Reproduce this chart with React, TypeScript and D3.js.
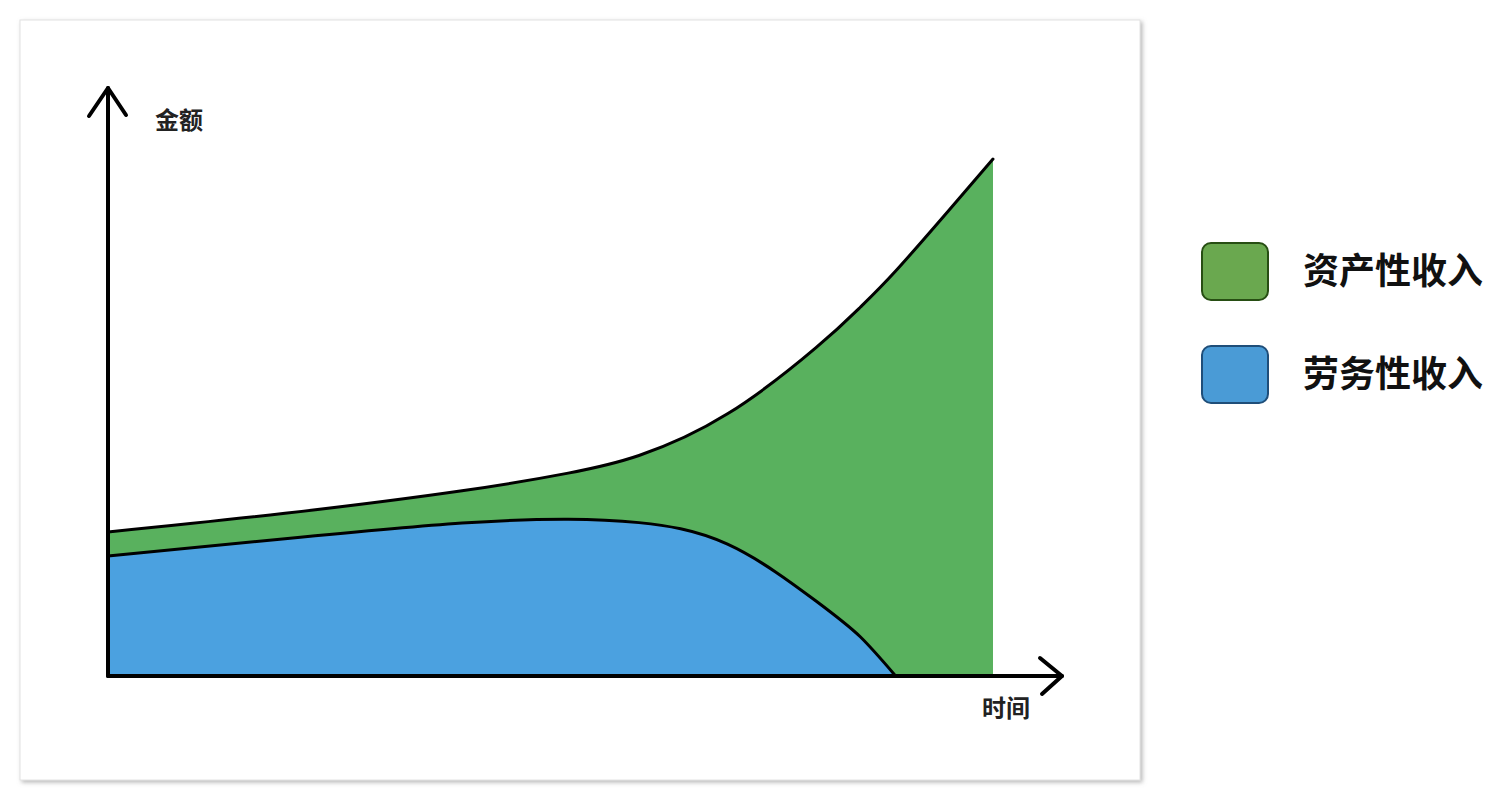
import React from "react";
import * as d3 from "d3";

// time (arbitrary units)
const times = [0, 20, 40, 52, 60, 70, 80, 85, 89, 95, 100];
// labor income (劳务性收入)
const laborIncome = [24.5, 28.0, 31.2, 32.0, 31.3, 26.9, 15.3, 8.0, 0, 0, 0];
// asset income (资产性收入)
const assetIncome = [4.9, 5.2, 6.6, 9.4, 13.7, 26.6, 51.7, 67.25, 82.65, 95.0, 105.5];
const laborEnd = 89; // time at which labor income reaches zero

const seriesKeys = ["labor", "asset"];
const legendLabels = ["资产性收入", "劳务性收入"];
const axisLabels = { y: "金额", x: "时间" };

const W = 1506;
const H = 790;

export default function App() {
  const x = d3.scaleLinear().domain([0, 100]).range([108, 993]);
  const y = d3.scaleLinear().domain([0, 120]).range([676, 88]);

  const rows = times.map((t, i) => ({ t, labor: laborIncome[i], asset: assetIncome[i] }));
  const stacked = d3.stack<any>().keys(seriesKeys)(rows);
  const laborS = stacked[0];
  const assetS = stacked[1];

  const curve = d3.curveNatural;

  const greenArea = d3
    .area<any>()
    .x((d) => x(d.data.t))
    .y0(y(0))
    .y1((d) => y(d[1]))
    .curve(curve)(assetS as any);

  const laborPts = laborS.filter((d: any) => d.data.t <= laborEnd);
  const blueArea = d3
    .area<any>()
    .x((d) => x(d.data.t))
    .y0(y(0))
    .y1((d) => y(d[1]))
    .curve(curve)(laborPts as any);

  const blueLine = d3
    .line<any>()
    .x((d) => x(d.data.t))
    .y((d) => y(d[1]))
    .curve(curve)(laborPts as any);

  const greenLine = d3
    .line<any>()
    .x((d) => x(d.data.t))
    .y((d) => y(d[1]))
    .curve(curve)(assetS as any);

  const x0 = x(0);
  const y0 = y(0);
  const yTop = 88;
  const xEnd = 1062;

  const font = "'Noto Sans CJK SC', 'Noto Sans', sans-serif";

  const legend = [
    { label: legendLabels[0], fill: "#6AA84F", stroke: "#274E13", y: 243 },
    { label: legendLabels[1], fill: "#4A9BD6", stroke: "#1F4E79", y: 346 },
  ];

  return (
    <svg
      width={W}
      height={H}
      style={{ position: "absolute", left: 0, top: 0, display: "block", background: "#fff" }}
    >
      <defs>
        <filter id="shadow" x="-5%" y="-5%" width="110%" height="110%">
          <feDropShadow dx="2" dy="2" stdDeviation="2" floodColor="#888" floodOpacity="0.6" />
        </filter>
      </defs>
      <rect x={20} y={20} width={1120} height={760} fill="#fff" stroke="#e2e2e2" strokeWidth={1} filter="url(#shadow)" />

      <path d={greenArea || ""} fill="#59B15E" />
      <path d={blueArea || ""} fill="#4BA1E0" />
      <path d={greenLine || ""} fill="none" stroke="#000" strokeWidth={3} strokeLinecap="round" />
      <path d={blueLine || ""} fill="none" stroke="#000" strokeWidth={3} strokeLinecap="round" />

      {/* axes */}
      <g stroke="#000" strokeWidth={4} fill="none" strokeLinecap="round" strokeLinejoin="round">
        <line x1={x0} y1={y0} x2={x0} y2={yTop} />
        <polyline points={`${x0 - 19},${yTop + 28} ${x0},${yTop} ${x0 + 18},${yTop + 27}`} />
        <line x1={x0} y1={y0} x2={xEnd} y2={y0} />
        <polyline points={`${xEnd - 22},${y0 - 18} ${xEnd},${y0} ${xEnd - 20},${y0 + 18}`} />
      </g>

      <text x={155} y={122} fontFamily={font} fontWeight={700} fontSize={24} fill="#222" dominantBaseline="middle">
        {axisLabels.y}
      </text>
      <text x={982} y={710} fontFamily={font} fontWeight={700} fontSize={24} fill="#222" dominantBaseline="middle">
        {axisLabels.x}
      </text>

      {legend.map((l) => (
        <g key={l.label}>
          <rect x={1202} y={l.y} width={66} height={57} rx={9} ry={9} fill={l.fill} stroke={l.stroke} strokeWidth={2} />
          <text
            x={1303}
            y={l.y + 31}
            fontFamily={font}
            fontWeight={700}
            fontSize={36}
            fill="#111"
            dominantBaseline="middle"
          >
            {l.label}
          </text>
        </g>
      ))}
    </svg>
  );
}
